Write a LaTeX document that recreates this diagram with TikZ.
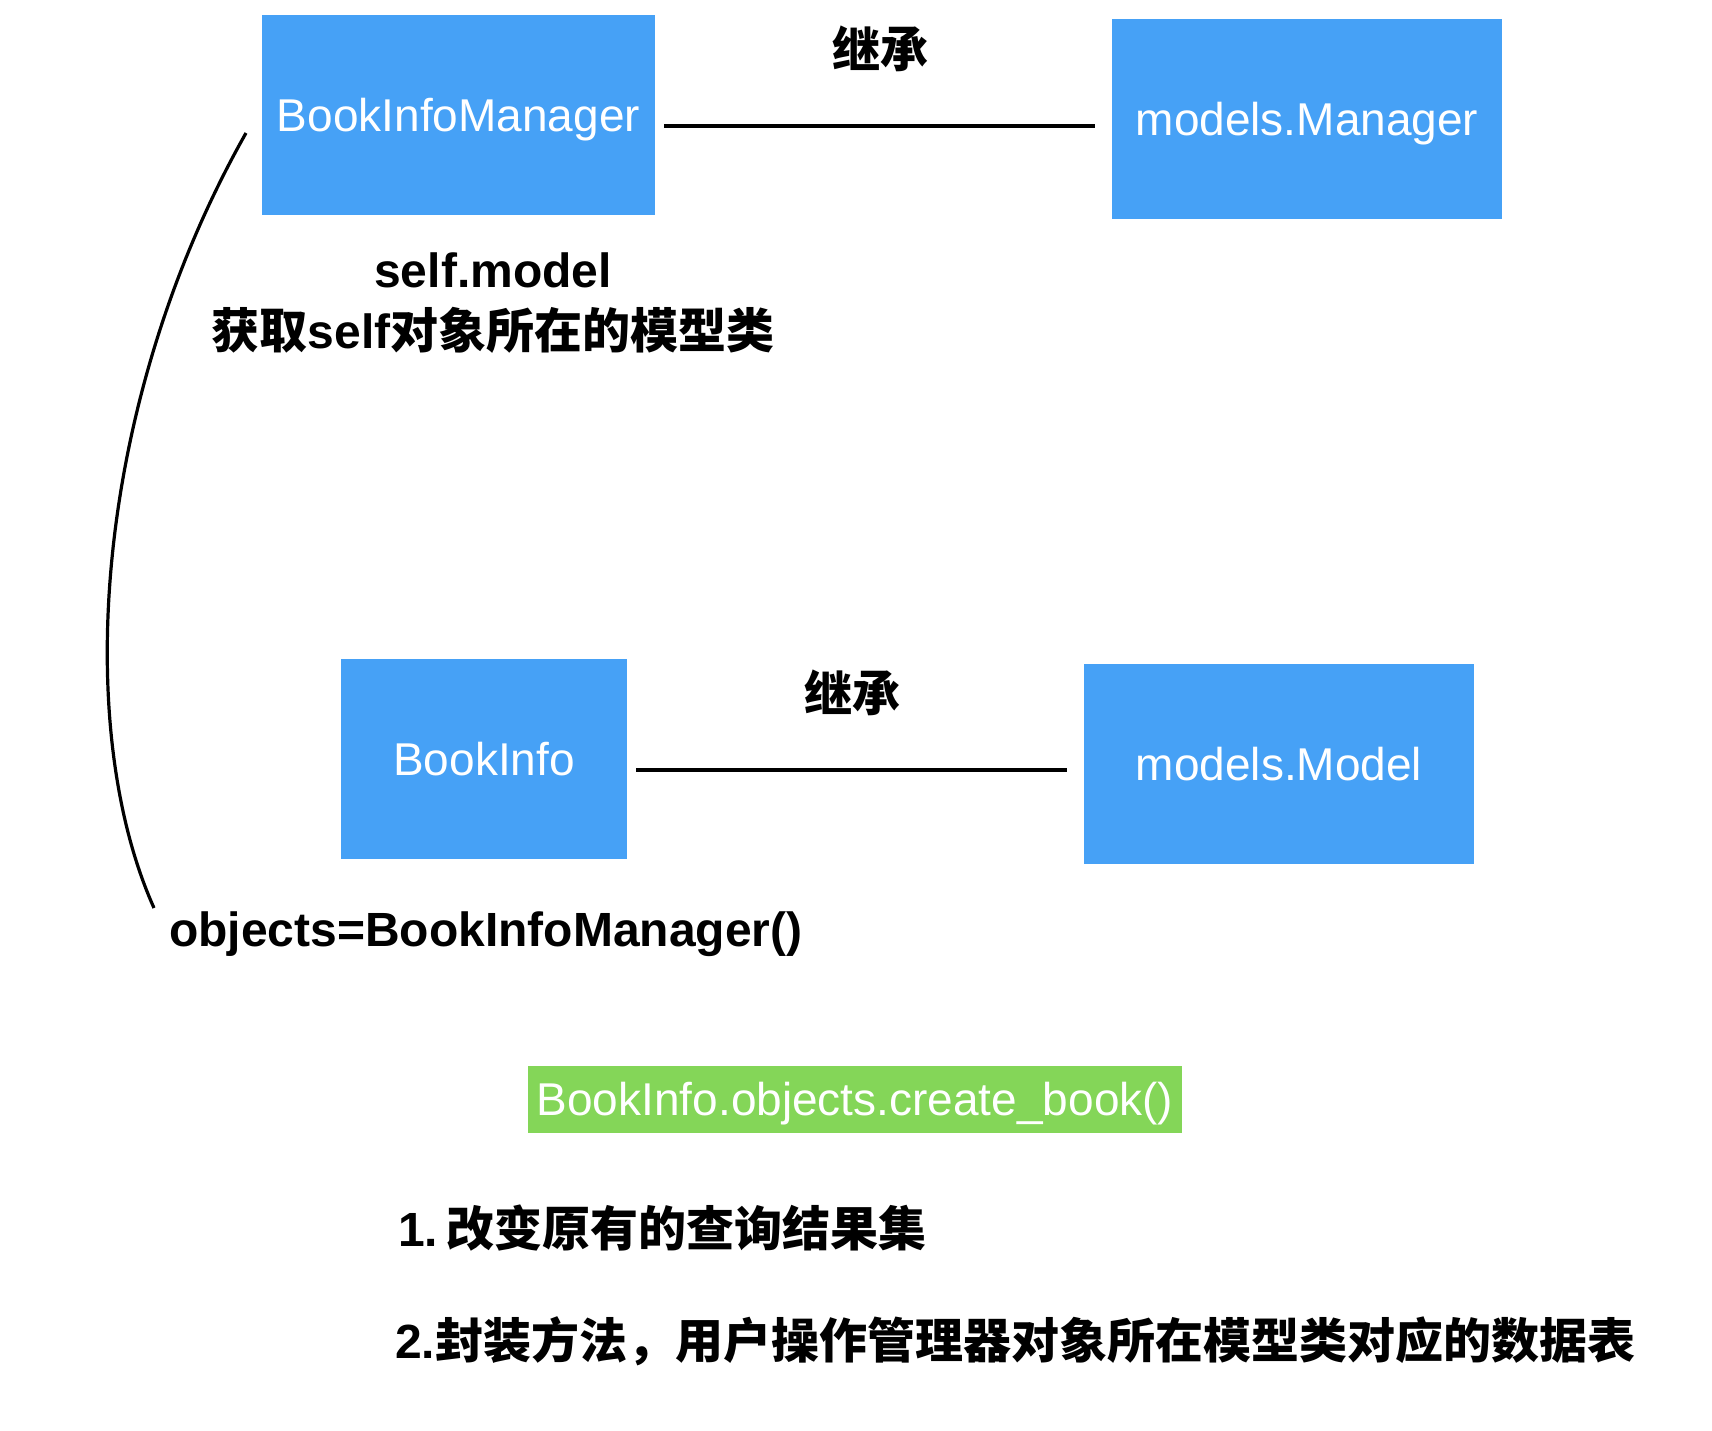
\documentclass[tikz,border=0pt]{standalone}
\usepackage{fontspec}
\setmainfont{Liberation Sans}
\newfontfamily\cjk{Noto Sans CJK SC}
\usetikzlibrary{calc}
\definecolor{boxblue}{RGB}{70,161,246}
\definecolor{boxgreen}{RGB}{132,214,88}
\tikzset{
  bluebox/.style={fill=boxblue, draw=none, text=white, inner sep=0pt,
    text height=33pt, text depth=0pt,
    font=\fontsize{46}{55}\selectfont},
  greenbox/.style={fill=boxgreen, draw=none, text=white, inner sep=0pt,
    text height=33pt, text depth=0pt,
    font=\fontsize{46}{55}\selectfont},
  lbl/.style={inner sep=0pt, text=black, font=\fontsize{48}{58}\selectfont\bfseries},
  conn/.style={line width=3.2pt, black},
}
\begin{document}
\begin{tikzpicture}[x=1pt,y=-1pt]
\useasboundingbox[fill=white] (0,0) rectangle (1712,1430);

\node[bluebox, minimum width=393pt, minimum height=200pt] (bim) at (458.5,115) {BookInfoManager};
\node[bluebox, minimum width=390pt, minimum height=200pt] (mm) at (1307,119) {models.Manager};
\node[bluebox, minimum width=286pt, minimum height=200pt] (bi) at (484,759) {BookInfo};
\node[bluebox, minimum width=390pt, minimum height=200pt] (mmod) at (1279,764) {models.Model};
\node[greenbox, minimum width=654pt, minimum height=67pt] (grn) at (855,1099) {BookInfo.objects.create\_book()};

\draw[conn] ($(bim.east)+(9,11)$) -- ($(mm.west)+(-17,7)$);
\draw[conn] ($(bi.east)+(9,11)$) -- ($(mmod.west)+(-17,6)$);

\node[lbl] (jc1) at (880,49) {\cjk\bfseries 继承};
\node[lbl] (jc2) at (852,693) {\cjk\bfseries 继承};
\node[lbl] (sm) at (493,270) {self.model};
\node[lbl] (hq) at (493,330) {{\cjk\bfseries 获取}self{\cjk\bfseries 对象所在的模型类}};
\node[lbl, anchor=west] (obj) at (169,934) {objects=BookInfoManager()};
\node[lbl, anchor=west] (n1) at (398,1228) {1.\hspace{0.18em}{\cjk\bfseries 改变原有的查询结果集}};
\node[lbl, anchor=west] (n2) at (395,1341) {2.{\cjk\bfseries 封装方法，用户操作管理器对象所在模型类对应的数据表}};

\coordinate (cTop) at (246,133);
\coordinate (cBot) at (154,908);
\draw[conn] (cTop) .. controls (95,400) and (72,725) .. (cBot);
\end{tikzpicture}
\end{document}
